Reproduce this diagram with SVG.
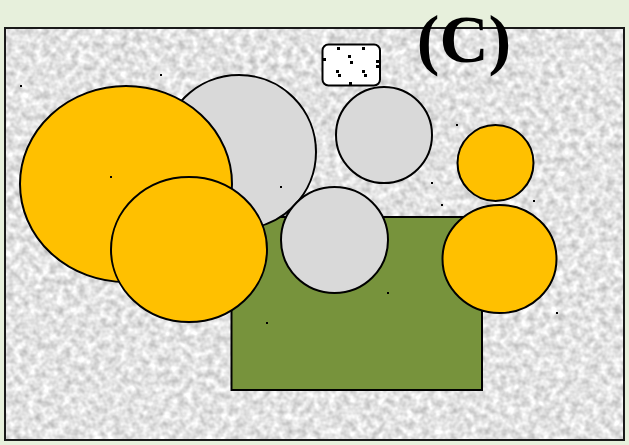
<svg xmlns="http://www.w3.org/2000/svg" width="629" height="445" viewBox="0 0 629 445">
<style>
.sh{stroke:#000;stroke-width:2}
.or{fill:#ffc000}
.gr{fill:#d9d9d9}
.dot{fill:#000}
</style>
<defs>
<filter id="noise" x="0" y="0" width="100%" height="100%" color-interpolation-filters="sRGB">
<feTurbulence type="fractalNoise" baseFrequency="0.14" numOctaves="2" seed="7"/>
<feColorMatrix type="matrix" values="0.42 0 0 0 0.68  0.42 0 0 0 0.68  0.42 0 0 0 0.68  0 0 0 0 1"/>
</filter>
</defs>
<rect x="0" y="0" width="629" height="445" fill="#e7f0dc"/>
<g id="background">
<rect x="5" y="28" width="619" height="412" filter="url(#noise)"/>
<rect x="5" y="28" width="619" height="412" fill="none" stroke="#1a1a1a" stroke-width="2"/>
</g>
<g id="title">
<text x="464" y="62" font-family="'Liberation Serif', 'Times New Roman', serif" font-weight="bold" font-size="68" text-anchor="middle" fill="#000">(C)</text>
</g>
<g id="green-rect"><rect class="sh" x="231.5" y="217" width="250.5" height="173" fill="#77933c"/></g>
<g id="gray-big"><circle class="sh gr" cx="239" cy="152" r="77"/></g>
<g id="orange-big"><ellipse class="sh or" cx="126" cy="184" rx="106" ry="98"/></g>
<g id="orange-2"><ellipse class="sh or" cx="189" cy="249.5" rx="78" ry="72.5"/></g>
<g id="gray-mid"><ellipse class="sh gr" cx="334.5" cy="240" rx="53.5" ry="53"/></g>
<g id="gray-top"><ellipse class="sh gr" cx="384" cy="135" rx="48" ry="48"/></g>
<g id="orange-small"><ellipse class="sh or" cx="495.5" cy="163" rx="38" ry="38"/></g>
<g id="orange-right"><ellipse class="sh or" cx="499.5" cy="259" rx="57" ry="54"/></g>
<g id="dice">
<rect x="322.5" y="44.5" width="57.5" height="41" rx="6" fill="#fff" stroke="#000" stroke-width="2"/>
<g class="dot">
<rect x="337" y="47" width="3" height="3"/>
<rect x="362" y="47" width="3" height="3"/>
<rect x="323" y="58" width="3" height="3"/>
<rect x="348" y="55" width="3" height="3"/>
<rect x="350" y="61" width="3" height="3"/>
<rect x="376" y="60" width="3" height="3"/>
<rect x="376" y="65" width="3" height="3"/>
<rect x="336" y="70" width="3" height="3"/>
<rect x="338" y="74" width="3" height="3"/>
<rect x="362" y="70" width="3" height="3"/>
<rect x="364" y="74" width="3" height="3"/>
<rect x="349" y="82" width="3" height="3"/>
</g>
</g>
<g id="markers" class="dot">
<rect x="20" y="85" width="2" height="2"/>
<rect x="160" y="74" width="2" height="2"/>
<rect x="110" y="176" width="2" height="2"/>
<rect x="280" y="186" width="2" height="2"/>
<rect x="387" y="292" width="2" height="2"/>
<rect x="266" y="322" width="2" height="2"/>
<rect x="456" y="124" width="2" height="2"/>
<rect x="533" y="200" width="2" height="2"/>
<rect x="431" y="182" width="2" height="2"/>
<rect x="441" y="204" width="2" height="2"/>
<rect x="556" y="312" width="2" height="2"/>
</g>
</svg>
